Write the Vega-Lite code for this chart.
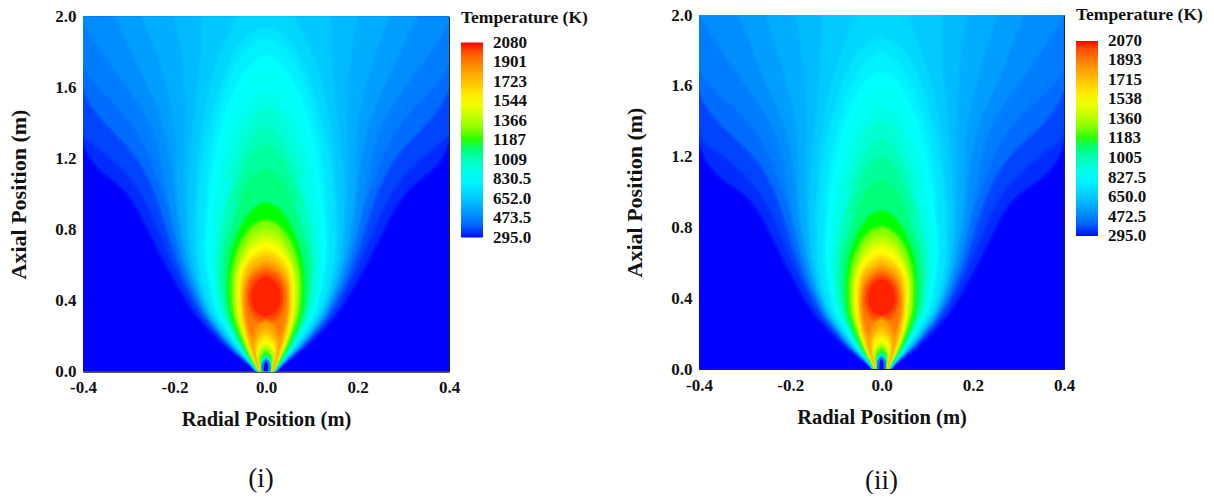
{"$schema":"https://vega.github.io/schema/vega-lite/v6.json","padding":{"left":7,"top":5,"right":0,"bottom":0},"background":"white","spacing":34,"center":true,"resolve":{"scale":{"color":"independent","stroke":"independent"}},
"config":{"view":{"stroke":"#222","strokeWidth":1},"font":"Liberation Serif","axis":{"grid":false,"ticks":false,"domainColor":"#222","labelFont":"Liberation Serif","labelFontWeight":"bold","labelFontSize":17,"labelColor":"#111","titleFont":"Liberation Serif","titleFontWeight":"bold","titleColor":"#111","labelOverlap":false,"labelFlush":false},"legend":{"labelFont":"Liberation Serif","labelFontWeight":"bold","labelFontSize":17,"labelColor":"#111","titleFont":"Liberation Serif","titleFontWeight":"bold","titleFontSize":17.5,"titleColor":"#111"},"title":{"font":"Liberation Serif","fontWeight":"normal","fontSize":27,"color":"#111"}},
"datasets":{"p1":[
{"t":295,"s":0,"y":0,"a":-0.4,"b":0.4},{"t":295,"s":0,"y":2,"a":-0.4,"b":0.4},
{"t":320,"s":1,"y":0,"a":-0.019,"b":0.019},{"t":320,"s":1,"y":0.05,"a":-0.038,"b":0.038},{"t":320,"s":1,"y":0.13,"a":-0.083,"b":0.083},{"t":320,"s":1,"y":0.24,"a":-0.125,"b":0.125},{"t":320,"s":1,"y":0.33,"a":-0.157,"b":0.157},{"t":320,"s":1,"y":0.43,"a":-0.18,"b":0.18},{"t":320,"s":1,"y":0.56,"a":-0.21,"b":0.21},{"t":320,"s":1,"y":0.71,"a":-0.24,"b":0.24},{"t":320,"s":1,"y":0.9,"a":-0.275,"b":0.275},{"t":320,"s":1,"y":1.08,"a":-0.32,"b":0.32},{"t":320,"s":1,"y":1.2,"a":-0.42,"b":0.42},{"t":320,"s":1,"y":2.1,"a":-0.42,"b":0.42},
{"t":350,"s":1,"y":0,"a":-0.018,"b":0.018},{"t":350,"s":1,"y":0.05,"a":-0.036,"b":0.036},{"t":350,"s":1,"y":0.13,"a":-0.078,"b":0.078},{"t":350,"s":1,"y":0.24,"a":-0.118,"b":0.118},{"t":350,"s":1,"y":0.33,"a":-0.148,"b":0.148},{"t":350,"s":1,"y":0.43,"a":-0.168,"b":0.168},{"t":350,"s":1,"y":0.56,"a":-0.195,"b":0.195},{"t":350,"s":1,"y":0.71,"a":-0.22,"b":0.22},{"t":350,"s":1,"y":0.9,"a":-0.25,"b":0.25},{"t":350,"s":1,"y":1.08,"a":-0.285,"b":0.285},{"t":350,"s":1,"y":1.3,"a":-0.38,"b":0.38},{"t":350,"s":1,"y":1.35,"a":-0.42,"b":0.42},{"t":350,"s":1,"y":2.1,"a":-0.42,"b":0.42},
{"t":420,"s":1,"y":0,"a":-0.017,"b":0.017},{"t":420,"s":1,"y":0.05,"a":-0.034,"b":0.034},{"t":420,"s":1,"y":0.13,"a":-0.074,"b":0.074},{"t":420,"s":1,"y":0.24,"a":-0.112,"b":0.112},{"t":420,"s":1,"y":0.33,"a":-0.14,"b":0.14},{"t":420,"s":1,"y":0.43,"a":-0.16,"b":0.16},{"t":420,"s":1,"y":0.56,"a":-0.185,"b":0.185},{"t":420,"s":1,"y":0.71,"a":-0.205,"b":0.205},{"t":420,"s":1,"y":0.9,"a":-0.228,"b":0.228},{"t":420,"s":1,"y":1.08,"a":-0.25,"b":0.25},{"t":420,"s":1,"y":1.3,"a":-0.305,"b":0.305},{"t":420,"s":1,"y":1.55,"a":-0.42,"b":0.42},{"t":420,"s":1,"y":2.1,"a":-0.42,"b":0.42},
{"t":460,"s":3,"y":0.95,"a":-0.215,"b":0.215},{"t":460,"s":3,"y":1.08,"a":-0.235,"b":0.235},{"t":460,"s":3,"y":1.3,"a":-0.265,"b":0.265},{"t":460,"s":3,"y":1.5,"a":-0.32,"b":0.32},{"t":460,"s":3,"y":1.72,"a":-0.42,"b":0.42},{"t":460,"s":3,"y":2.1,"a":-0.42,"b":0.42},
{"t":500,"s":1,"y":0,"a":-0.0165,"b":0.0165},{"t":500,"s":1,"y":0.05,"a":-0.033,"b":0.033},{"t":500,"s":1,"y":0.13,"a":-0.071,"b":0.071},{"t":500,"s":1,"y":0.24,"a":-0.107,"b":0.107},{"t":500,"s":1,"y":0.33,"a":-0.134,"b":0.134},{"t":500,"s":1,"y":0.43,"a":-0.152,"b":0.152},{"t":500,"s":1,"y":0.56,"a":-0.175,"b":0.175},{"t":500,"s":1,"y":0.71,"a":-0.192,"b":0.192},{"t":500,"s":1,"y":0.9,"a":-0.21,"b":0.21},{"t":500,"s":1,"y":1.08,"a":-0.22,"b":0.22},{"t":500,"s":1,"y":1.3,"a":-0.235,"b":0.235},{"t":500,"s":1,"y":1.5,"a":-0.27,"b":0.27},{"t":500,"s":1,"y":1.7,"a":-0.33,"b":0.33},{"t":500,"s":1,"y":1.92,"a":-0.39,"b":0.39},{"t":500,"s":1,"y":2.1,"a":-0.42,"b":0.42},
{"t":540,"s":3,"y":0.9,"a":-0.19,"b":0.19},{"t":540,"s":3,"y":1.08,"a":-0.2,"b":0.2},{"t":540,"s":3,"y":1.3,"a":-0.213,"b":0.213},{"t":540,"s":3,"y":1.5,"a":-0.235,"b":0.235},{"t":540,"s":3,"y":1.7,"a":-0.275,"b":0.275},{"t":540,"s":3,"y":1.85,"a":-0.3,"b":0.3},{"t":540,"s":3,"y":2,"a":-0.33,"b":0.33},{"t":540,"s":3,"y":2.1,"a":-0.35,"b":0.35},
{"t":580,"s":1,"y":0,"a":-0.016,"b":0.016},{"t":580,"s":1,"y":0.05,"a":-0.032,"b":0.032},{"t":580,"s":1,"y":0.13,"a":-0.068,"b":0.068},{"t":580,"s":1,"y":0.24,"a":-0.103,"b":0.103},{"t":580,"s":1,"y":0.33,"a":-0.129,"b":0.129},{"t":580,"s":1,"y":0.43,"a":-0.146,"b":0.146},{"t":580,"s":1,"y":0.56,"a":-0.166,"b":0.166},{"t":580,"s":1,"y":0.71,"a":-0.18,"b":0.18},{"t":580,"s":1,"y":0.9,"a":-0.192,"b":0.192},{"t":580,"s":1,"y":1.08,"a":-0.195,"b":0.195},{"t":580,"s":1,"y":1.3,"a":-0.195,"b":0.195},{"t":580,"s":1,"y":1.5,"a":-0.205,"b":0.205},{"t":580,"s":1,"y":1.7,"a":-0.225,"b":0.225},{"t":580,"s":1,"y":1.85,"a":-0.245,"b":0.245},{"t":580,"s":1,"y":2,"a":-0.27,"b":0.27},{"t":580,"s":1,"y":2.1,"a":-0.29,"b":0.29},
{"t":620,"s":3,"y":0.9,"a":-0.17,"b":0.17},{"t":620,"s":3,"y":1.08,"a":-0.178,"b":0.178},{"t":620,"s":3,"y":1.3,"a":-0.175,"b":0.175},{"t":620,"s":3,"y":1.5,"a":-0.175,"b":0.175},{"t":620,"s":3,"y":1.7,"a":-0.18,"b":0.18},{"t":620,"s":3,"y":1.85,"a":-0.185,"b":0.185},{"t":620,"s":3,"y":2,"a":-0.2,"b":0.2},{"t":620,"s":3,"y":2.1,"a":-0.21,"b":0.21},
{"t":660,"s":1,"y":0,"a":-0.0155,"b":0.0155},{"t":660,"s":1,"y":0.05,"a":-0.031,"b":0.031},{"t":660,"s":1,"y":0.13,"a":-0.065,"b":0.065},{"t":660,"s":1,"y":0.24,"a":-0.099,"b":0.099},{"t":660,"s":1,"y":0.33,"a":-0.124,"b":0.124},{"t":660,"s":1,"y":0.43,"a":-0.14,"b":0.14},{"t":660,"s":1,"y":0.56,"a":-0.157,"b":0.157},{"t":660,"s":1,"y":0.71,"a":-0.168,"b":0.168},{"t":660,"s":1,"y":0.9,"a":-0.172,"b":0.172},{"t":660,"s":1,"y":1.08,"a":-0.168,"b":0.168},{"t":660,"s":1,"y":1.3,"a":-0.16,"b":0.16},{"t":660,"s":1,"y":1.5,"a":-0.152,"b":0.152},{"t":660,"s":1,"y":1.7,"a":-0.145,"b":0.145},{"t":660,"s":1,"y":1.85,"a":-0.14,"b":0.14},{"t":660,"s":1,"y":2,"a":-0.14,"b":0.14},{"t":660,"s":1,"y":2.1,"a":-0.14,"b":0.14},
{"t":700,"s":3,"y":0.9,"a":-0.15,"b":0.15},{"t":700,"s":3,"y":1.08,"a":-0.15,"b":0.15},{"t":700,"s":3,"y":1.3,"a":-0.145,"b":0.145},{"t":700,"s":3,"y":1.5,"a":-0.13,"b":0.13},{"t":700,"s":3,"y":1.7,"a":-0.115,"b":0.115},{"t":700,"s":3,"y":1.85,"a":-0.09,"b":0.09},{"t":700,"s":3,"y":2,"a":-0.06,"b":0.06},{"t":700,"s":3,"y":2.1,"a":-0.04,"b":0.04},
{"t":740,"s":1,"y":0,"a":-0.015,"b":0.015},{"t":740,"s":1,"y":0.05,"a":-0.03,"b":0.03},{"t":740,"s":1,"y":0.13,"a":-0.062,"b":0.062},{"t":740,"s":1,"y":0.24,"a":-0.093,"b":0.093},{"t":740,"s":1,"y":0.33,"a":-0.118,"b":0.118},{"t":740,"s":1,"y":0.43,"a":-0.132,"b":0.132},{"t":740,"s":1,"y":0.56,"a":-0.147,"b":0.147},{"t":740,"s":1,"y":0.71,"a":-0.153,"b":0.153},{"t":740,"s":1,"y":0.9,"a":-0.152,"b":0.152},{"t":740,"s":1,"y":1.08,"a":-0.145,"b":0.145},{"t":740,"s":1,"y":1.3,"a":-0.132,"b":0.132},{"t":740,"s":1,"y":1.5,"a":-0.112,"b":0.112},{"t":740,"s":1,"y":1.7,"a":-0.085,"b":0.085},{"t":740,"s":1,"y":1.88,"a":-0.055,"b":0.055},{"t":740,"s":1,"y":1.94,"a":0,"b":0},
{"t":780,"s":3,"y":1,"a":-0.13,"b":0.13},{"t":780,"s":3,"y":1.3,"a":-0.118,"b":0.118},{"t":780,"s":3,"y":1.5,"a":-0.1,"b":0.1},{"t":780,"s":3,"y":1.7,"a":-0.072,"b":0.072},{"t":780,"s":3,"y":1.84,"a":-0.04,"b":0.04},{"t":780,"s":3,"y":1.88,"a":0,"b":0},
{"t":830,"s":1,"y":0,"a":-0.0145,"b":0.0145},{"t":830,"s":1,"y":0.05,"a":-0.029,"b":0.029},{"t":830,"s":1,"y":0.13,"a":-0.057,"b":0.057},{"t":830,"s":1,"y":0.24,"a":-0.086,"b":0.086},{"t":830,"s":1,"y":0.33,"a":-0.108,"b":0.108},{"t":830,"s":1,"y":0.43,"a":-0.118,"b":0.118},{"t":830,"s":1,"y":0.56,"a":-0.128,"b":0.128},{"t":830,"s":1,"y":0.71,"a":-0.134,"b":0.134},{"t":830,"s":1,"y":0.9,"a":-0.128,"b":0.128},{"t":830,"s":1,"y":1.08,"a":-0.12,"b":0.12},{"t":830,"s":1,"y":1.3,"a":-0.105,"b":0.105},{"t":830,"s":1,"y":1.5,"a":-0.085,"b":0.085},{"t":830,"s":1,"y":1.72,"a":-0.045,"b":0.045},{"t":830,"s":1,"y":1.78,"a":0,"b":0},
{"t":865,"s":3,"y":1.1,"a":-0.1,"b":0.1},{"t":865,"s":3,"y":1.3,"a":-0.092,"b":0.092},{"t":865,"s":3,"y":1.5,"a":-0.068,"b":0.068},{"t":865,"s":3,"y":1.66,"a":-0.035,"b":0.035},{"t":865,"s":3,"y":1.7,"a":0,"b":0},
{"t":900,"s":1,"y":0,"a":-0.014,"b":0.014},{"t":900,"s":1,"y":0.05,"a":-0.027,"b":0.027},{"t":900,"s":1,"y":0.13,"a":-0.053,"b":0.053},{"t":900,"s":1,"y":0.24,"a":-0.08,"b":0.08},{"t":900,"s":1,"y":0.33,"a":-0.1,"b":0.1},{"t":900,"s":1,"y":0.43,"a":-0.11,"b":0.11},{"t":900,"s":1,"y":0.56,"a":-0.118,"b":0.118},{"t":900,"s":1,"y":0.71,"a":-0.12,"b":0.12},{"t":900,"s":1,"y":0.9,"a":-0.112,"b":0.112},{"t":900,"s":1,"y":1.08,"a":-0.1,"b":0.1},{"t":900,"s":1,"y":1.3,"a":-0.08,"b":0.08},{"t":900,"s":1,"y":1.52,"a":-0.04,"b":0.04},{"t":900,"s":1,"y":1.58,"a":0,"b":0},
{"t":950,"s":3,"y":1.1,"a":-0.085,"b":0.085},{"t":950,"s":3,"y":1.3,"a":-0.058,"b":0.058},{"t":950,"s":3,"y":1.45,"a":-0.033,"b":0.033},{"t":950,"s":3,"y":1.5,"a":0,"b":0},
{"t":1000,"s":1,"y":0,"a":-0.0135,"b":0.0135},{"t":1000,"s":1,"y":0.05,"a":-0.026,"b":0.026},{"t":1000,"s":1,"y":0.13,"a":-0.05,"b":0.05},{"t":1000,"s":1,"y":0.24,"a":-0.075,"b":0.075},{"t":1000,"s":1,"y":0.33,"a":-0.092,"b":0.092},{"t":1000,"s":1,"y":0.43,"a":-0.1,"b":0.1},{"t":1000,"s":1,"y":0.56,"a":-0.106,"b":0.106},{"t":1000,"s":1,"y":0.71,"a":-0.104,"b":0.104},{"t":1000,"s":1,"y":0.9,"a":-0.09,"b":0.09},{"t":1000,"s":1,"y":1.08,"a":-0.07,"b":0.07},{"t":1000,"s":1,"y":1.34,"a":-0.032,"b":0.032},{"t":1000,"s":1,"y":1.38,"a":0,"b":0},
{"t":1045,"s":3,"y":0.95,"a":-0.075,"b":0.075},{"t":1045,"s":3,"y":1.08,"a":-0.055,"b":0.055},{"t":1045,"s":3,"y":1.25,"a":-0.03,"b":0.03},{"t":1045,"s":3,"y":1.28,"a":0,"b":0},
{"t":1090,"s":1,"y":0,"a":-0.013,"b":0.013},{"t":1090,"s":1,"y":0.05,"a":-0.025,"b":0.025},{"t":1090,"s":1,"y":0.13,"a":-0.047,"b":0.047},{"t":1090,"s":1,"y":0.24,"a":-0.07,"b":0.07},{"t":1090,"s":1,"y":0.33,"a":-0.085,"b":0.085},{"t":1090,"s":1,"y":0.43,"a":-0.092,"b":0.092},{"t":1090,"s":1,"y":0.56,"a":-0.096,"b":0.096},{"t":1090,"s":1,"y":0.71,"a":-0.09,"b":0.09},{"t":1090,"s":1,"y":0.9,"a":-0.065,"b":0.065},{"t":1090,"s":1,"y":1.1,"a":-0.035,"b":0.035},{"t":1090,"s":1,"y":1.14,"a":0,"b":0},
{"t":1187,"s":1,"y":0,"a":-0.0125,"b":0.0125},{"t":1187,"s":1,"y":0.05,"a":-0.024,"b":0.024},{"t":1187,"s":1,"y":0.13,"a":-0.045,"b":0.045},{"t":1187,"s":1,"y":0.24,"a":-0.066,"b":0.066},{"t":1187,"s":1,"y":0.33,"a":-0.078,"b":0.078},{"t":1187,"s":1,"y":0.43,"a":-0.082,"b":0.082},{"t":1187,"s":1,"y":0.56,"a":-0.082,"b":0.082},{"t":1187,"s":1,"y":0.71,"a":-0.074,"b":0.074},{"t":1187,"s":1,"y":0.92,"a":-0.035,"b":0.035},{"t":1187,"s":1,"y":0.95,"a":0,"b":0},
{"t":1280,"s":1,"y":0,"a":-0.012,"b":0.012},{"t":1280,"s":1,"y":0.05,"a":-0.023,"b":0.023},{"t":1280,"s":1,"y":0.13,"a":-0.042,"b":0.042},{"t":1280,"s":1,"y":0.24,"a":-0.06,"b":0.06},{"t":1280,"s":1,"y":0.33,"a":-0.072,"b":0.072},{"t":1280,"s":1,"y":0.43,"a":-0.075,"b":0.075},{"t":1280,"s":1,"y":0.56,"a":-0.075,"b":0.075},{"t":1280,"s":1,"y":0.71,"a":-0.06,"b":0.06},{"t":1280,"s":1,"y":0.83,"a":-0.03,"b":0.03},{"t":1280,"s":1,"y":0.85,"a":0,"b":0},
{"t":1366,"s":1,"y":0,"a":-0.0115,"b":0.0115},{"t":1366,"s":1,"y":0.05,"a":-0.022,"b":0.022},{"t":1366,"s":1,"y":0.13,"a":-0.039,"b":0.039},{"t":1366,"s":1,"y":0.24,"a":-0.056,"b":0.056},{"t":1366,"s":1,"y":0.33,"a":-0.066,"b":0.066},{"t":1366,"s":1,"y":0.43,"a":-0.069,"b":0.069},{"t":1366,"s":1,"y":0.56,"a":-0.068,"b":0.068},{"t":1366,"s":1,"y":0.71,"a":-0.045,"b":0.045},{"t":1366,"s":1,"y":0.785,"a":-0.025,"b":0.025},{"t":1366,"s":1,"y":0.8,"a":0,"b":0},
{"t":1450,"s":1,"y":0,"a":-0.011,"b":0.011},{"t":1450,"s":1,"y":0.05,"a":-0.021,"b":0.021},{"t":1450,"s":1,"y":0.13,"a":-0.037,"b":0.037},{"t":1450,"s":1,"y":0.24,"a":-0.053,"b":0.053},{"t":1450,"s":1,"y":0.33,"a":-0.061,"b":0.061},{"t":1450,"s":1,"y":0.43,"a":-0.064,"b":0.064},{"t":1450,"s":1,"y":0.56,"a":-0.063,"b":0.063},{"t":1450,"s":1,"y":0.7,"a":-0.04,"b":0.04},{"t":1450,"s":1,"y":0.745,"a":-0.022,"b":0.022},{"t":1450,"s":1,"y":0.76,"a":0,"b":0},
{"t":1544,"s":1,"y":0,"a":-0.0105,"b":0.0105},{"t":1544,"s":1,"y":0.05,"a":-0.02,"b":0.02},{"t":1544,"s":1,"y":0.13,"a":-0.035,"b":0.035},{"t":1544,"s":1,"y":0.24,"a":-0.05,"b":0.05},{"t":1544,"s":1,"y":0.33,"a":-0.057,"b":0.057},{"t":1544,"s":1,"y":0.43,"a":-0.059,"b":0.059},{"t":1544,"s":1,"y":0.56,"a":-0.058,"b":0.058},{"t":1544,"s":1,"y":0.64,"a":-0.046,"b":0.046},{"t":1544,"s":1,"y":0.71,"a":-0.022,"b":0.022},{"t":1544,"s":1,"y":0.725,"a":0,"b":0},
{"t":1630,"s":1,"y":0,"a":-0.01,"b":0.01},{"t":1630,"s":1,"y":0.05,"a":-0.019,"b":0.019},{"t":1630,"s":1,"y":0.13,"a":-0.033,"b":0.033},{"t":1630,"s":1,"y":0.24,"a":-0.047,"b":0.047},{"t":1630,"s":1,"y":0.33,"a":-0.054,"b":0.054},{"t":1630,"s":1,"y":0.43,"a":-0.056,"b":0.056},{"t":1630,"s":1,"y":0.56,"a":-0.054,"b":0.054},{"t":1630,"s":1,"y":0.66,"a":-0.028,"b":0.028},{"t":1630,"s":1,"y":0.685,"a":0,"b":0},
{"t":1720,"s":1,"y":0,"a":-0.0095,"b":0.0095},{"t":1720,"s":1,"y":0.05,"a":-0.018,"b":0.018},{"t":1720,"s":1,"y":0.13,"a":-0.031,"b":0.031},{"t":1720,"s":1,"y":0.24,"a":-0.044,"b":0.044},{"t":1720,"s":1,"y":0.33,"a":-0.05,"b":0.05},{"t":1720,"s":1,"y":0.43,"a":-0.052,"b":0.052},{"t":1720,"s":1,"y":0.56,"a":-0.05,"b":0.05},{"t":1720,"s":1,"y":0.635,"a":-0.025,"b":0.025},{"t":1720,"s":1,"y":0.655,"a":0,"b":0},
{"t":1810,"s":1,"y":0,"a":-0.009,"b":0.009},{"t":1810,"s":1,"y":0.05,"a":-0.017,"b":0.017},{"t":1810,"s":1,"y":0.13,"a":-0.029,"b":0.029},{"t":1810,"s":1,"y":0.24,"a":-0.041,"b":0.041},{"t":1810,"s":1,"y":0.33,"a":-0.046,"b":0.046},{"t":1810,"s":1,"y":0.43,"a":-0.048,"b":0.048},{"t":1810,"s":1,"y":0.54,"a":-0.044,"b":0.044},{"t":1810,"s":1,"y":0.605,"a":-0.02,"b":0.02},{"t":1810,"s":1,"y":0.62,"a":0,"b":0},
{"t":1900,"s":1,"y":0.17,"a":0,"b":0},{"t":1900,"s":1,"y":0.19,"a":-0.03,"b":0.03},{"t":1900,"s":1,"y":0.24,"a":-0.037,"b":0.037},{"t":1900,"s":1,"y":0.33,"a":-0.044,"b":0.044},{"t":1900,"s":1,"y":0.43,"a":-0.046,"b":0.046},{"t":1900,"s":1,"y":0.52,"a":-0.04,"b":0.04},{"t":1900,"s":1,"y":0.575,"a":-0.02,"b":0.02},{"t":1900,"s":1,"y":0.59,"a":0,"b":0},
{"t":1990,"s":1,"y":0.27,"a":0,"b":0},{"t":1990,"s":1,"y":0.29,"a":-0.025,"b":0.025},{"t":1990,"s":1,"y":0.36,"a":-0.038,"b":0.038},{"t":1990,"s":1,"y":0.43,"a":-0.041,"b":0.041},{"t":1990,"s":1,"y":0.5,"a":-0.036,"b":0.036},{"t":1990,"s":1,"y":0.55,"a":-0.02,"b":0.02},{"t":1990,"s":1,"y":0.565,"a":0,"b":0},
{"t":2060,"s":1,"y":0.31,"a":0,"b":0},{"t":2060,"s":1,"y":0.33,"a":-0.022,"b":0.022},{"t":2060,"s":1,"y":0.38,"a":-0.031,"b":0.031},{"t":2060,"s":1,"y":0.43,"a":-0.033,"b":0.033},{"t":2060,"s":1,"y":0.48,"a":-0.028,"b":0.028},{"t":2060,"s":1,"y":0.525,"a":-0.014,"b":0.014},{"t":2060,"s":1,"y":0.535,"a":0,"b":0},
{"t":1810,"s":2,"y":0,"a":-0.0085,"b":0.0085},{"t":1810,"s":2,"y":0.05,"a":-0.0145,"b":0.0145},{"t":1810,"s":2,"y":0.13,"a":-0.025,"b":0.025},{"t":1810,"s":2,"y":0.2,"a":-0.026,"b":0.026},{"t":1810,"s":2,"y":0.26,"a":-0.018,"b":0.018},{"t":1810,"s":2,"y":0.285,"a":0,"b":0},
{"t":1720,"s":2,"y":0,"a":-0.008,"b":0.008},{"t":1720,"s":2,"y":0.05,"a":-0.013,"b":0.013},{"t":1720,"s":2,"y":0.13,"a":-0.023,"b":0.023},{"t":1720,"s":2,"y":0.2,"a":-0.02,"b":0.02},{"t":1720,"s":2,"y":0.24,"a":0,"b":0},
{"t":1630,"s":2,"y":0,"a":-0.0075,"b":0.0075},{"t":1630,"s":2,"y":0.05,"a":-0.012,"b":0.012},{"t":1630,"s":2,"y":0.13,"a":-0.0215,"b":0.0215},{"t":1630,"s":2,"y":0.18,"a":-0.017,"b":0.017},{"t":1630,"s":2,"y":0.205,"a":0,"b":0},
{"t":1544,"s":2,"y":0,"a":-0.007,"b":0.007},{"t":1544,"s":2,"y":0.05,"a":-0.011,"b":0.011},{"t":1544,"s":2,"y":0.1,"a":-0.018,"b":0.018},{"t":1544,"s":2,"y":0.15,"a":-0.017,"b":0.017},{"t":1544,"s":2,"y":0.175,"a":0,"b":0},
{"t":1450,"s":2,"y":0,"a":-0.0065,"b":0.0065},{"t":1450,"s":2,"y":0.05,"a":-0.0105,"b":0.0105},{"t":1450,"s":2,"y":0.1,"a":-0.0165,"b":0.0165},{"t":1450,"s":2,"y":0.135,"a":-0.013,"b":0.013},{"t":1450,"s":2,"y":0.155,"a":0,"b":0},
{"t":1366,"s":2,"y":0,"a":-0.006,"b":0.006},{"t":1366,"s":2,"y":0.05,"a":-0.01,"b":0.01},{"t":1366,"s":2,"y":0.09,"a":-0.014,"b":0.014},{"t":1366,"s":2,"y":0.12,"a":-0.011,"b":0.011},{"t":1366,"s":2,"y":0.135,"a":0,"b":0},
{"t":1280,"s":2,"y":0,"a":-0.0058,"b":0.0058},{"t":1280,"s":2,"y":0.05,"a":-0.0092,"b":0.0092},{"t":1280,"s":2,"y":0.09,"a":-0.012,"b":0.012},{"t":1280,"s":2,"y":0.12,"a":0,"b":0},
{"t":1187,"s":2,"y":0,"a":-0.0056,"b":0.0056},{"t":1187,"s":2,"y":0.05,"a":-0.0085,"b":0.0085},{"t":1187,"s":2,"y":0.085,"a":-0.0095,"b":0.0095},{"t":1187,"s":2,"y":0.103,"a":0,"b":0},
{"t":1000,"s":2,"y":0,"a":-0.0054,"b":0.0054},{"t":1000,"s":2,"y":0.05,"a":-0.0075,"b":0.0075},{"t":1000,"s":2,"y":0.075,"a":-0.0072,"b":0.0072},{"t":1000,"s":2,"y":0.088,"a":0,"b":0},
{"t":830,"s":2,"y":0,"a":-0.0052,"b":0.0052},{"t":830,"s":2,"y":0.06,"a":-0.0065,"b":0.0065},{"t":830,"s":2,"y":0.075,"a":0,"b":0},
{"t":580,"s":2,"y":0,"a":-0.005,"b":0.005},{"t":580,"s":2,"y":0.05,"a":-0.0055,"b":0.0055},{"t":580,"s":2,"y":0.065,"a":0,"b":0},
{"t":295,"s":2,"y":0,"a":-0.0045,"b":0.0045},{"t":295,"s":2,"y":0.045,"a":-0.0045,"b":0.0045},{"t":295,"s":2,"y":0.055,"a":0,"b":0}
],"p2":[
{"t":295,"s":0,"y":0,"a":-0.4,"b":0.4},{"t":295,"s":0,"y":2,"a":-0.4,"b":0.4},
{"t":320,"s":1,"y":0,"a":-0.018,"b":0.018},{"t":320,"s":1,"y":0.05,"a":-0.036,"b":0.036},{"t":320,"s":1,"y":0.12,"a":-0.078,"b":0.078},{"t":320,"s":1,"y":0.23,"a":-0.117,"b":0.117},{"t":320,"s":1,"y":0.31,"a":-0.147,"b":0.147},{"t":320,"s":1,"y":0.4,"a":-0.168,"b":0.168},{"t":320,"s":1,"y":0.53,"a":-0.196,"b":0.196},{"t":320,"s":1,"y":0.67,"a":-0.224,"b":0.224},{"t":320,"s":1,"y":0.85,"a":-0.257,"b":0.257},{"t":320,"s":1,"y":1.02,"a":-0.3,"b":0.3},{"t":320,"s":1,"y":1.15,"a":-0.42,"b":0.42},{"t":320,"s":1,"y":2.1,"a":-0.42,"b":0.42},
{"t":350,"s":1,"y":0,"a":-0.017,"b":0.017},{"t":350,"s":1,"y":0.05,"a":-0.034,"b":0.034},{"t":350,"s":1,"y":0.12,"a":-0.073,"b":0.073},{"t":350,"s":1,"y":0.23,"a":-0.11,"b":0.11},{"t":350,"s":1,"y":0.31,"a":-0.138,"b":0.138},{"t":350,"s":1,"y":0.4,"a":-0.156,"b":0.156},{"t":350,"s":1,"y":0.53,"a":-0.181,"b":0.181},{"t":350,"s":1,"y":0.67,"a":-0.205,"b":0.205},{"t":350,"s":1,"y":0.85,"a":-0.233,"b":0.233},{"t":350,"s":1,"y":1.02,"a":-0.265,"b":0.265},{"t":350,"s":1,"y":1.25,"a":-0.36,"b":0.36},{"t":350,"s":1,"y":1.3,"a":-0.42,"b":0.42},{"t":350,"s":1,"y":2.1,"a":-0.42,"b":0.42},
{"t":420,"s":1,"y":0,"a":-0.016,"b":0.016},{"t":420,"s":1,"y":0.05,"a":-0.032,"b":0.032},{"t":420,"s":1,"y":0.12,"a":-0.069,"b":0.069},{"t":420,"s":1,"y":0.23,"a":-0.104,"b":0.104},{"t":420,"s":1,"y":0.31,"a":-0.13,"b":0.13},{"t":420,"s":1,"y":0.4,"a":-0.149,"b":0.149},{"t":420,"s":1,"y":0.53,"a":-0.172,"b":0.172},{"t":420,"s":1,"y":0.67,"a":-0.191,"b":0.191},{"t":420,"s":1,"y":0.85,"a":-0.212,"b":0.212},{"t":420,"s":1,"y":1.02,"a":-0.233,"b":0.233},{"t":420,"s":1,"y":1.25,"a":-0.284,"b":0.284},{"t":420,"s":1,"y":1.5,"a":-0.42,"b":0.42},{"t":420,"s":1,"y":2.1,"a":-0.42,"b":0.42},
{"t":460,"s":3,"y":0.9,"a":-0.2,"b":0.2},{"t":460,"s":3,"y":1.02,"a":-0.219,"b":0.219},{"t":460,"s":3,"y":1.25,"a":-0.25,"b":0.25},{"t":460,"s":3,"y":1.45,"a":-0.3,"b":0.3},{"t":460,"s":3,"y":1.67,"a":-0.42,"b":0.42},{"t":460,"s":3,"y":2.1,"a":-0.42,"b":0.42},
{"t":500,"s":1,"y":0,"a":-0.015,"b":0.015},{"t":500,"s":1,"y":0.05,"a":-0.031,"b":0.031},{"t":500,"s":1,"y":0.12,"a":-0.066,"b":0.066},{"t":500,"s":1,"y":0.23,"a":-0.1,"b":0.1},{"t":500,"s":1,"y":0.31,"a":-0.125,"b":0.125},{"t":500,"s":1,"y":0.4,"a":-0.141,"b":0.141},{"t":500,"s":1,"y":0.53,"a":-0.163,"b":0.163},{"t":500,"s":1,"y":0.67,"a":-0.179,"b":0.179},{"t":500,"s":1,"y":0.85,"a":-0.195,"b":0.195},{"t":500,"s":1,"y":1.02,"a":-0.205,"b":0.205},{"t":500,"s":1,"y":1.25,"a":-0.219,"b":0.219},{"t":500,"s":1,"y":1.45,"a":-0.25,"b":0.25},{"t":500,"s":1,"y":1.65,"a":-0.31,"b":0.31},{"t":500,"s":1,"y":1.88,"a":-0.37,"b":0.37},{"t":500,"s":1,"y":2.1,"a":-0.42,"b":0.42},
{"t":540,"s":3,"y":0.85,"a":-0.177,"b":0.177},{"t":540,"s":3,"y":1.02,"a":-0.186,"b":0.186},{"t":540,"s":3,"y":1.25,"a":-0.198,"b":0.198},{"t":540,"s":3,"y":1.45,"a":-0.219,"b":0.219},{"t":540,"s":3,"y":1.65,"a":-0.26,"b":0.26},{"t":540,"s":3,"y":1.8,"a":-0.28,"b":0.28},{"t":540,"s":3,"y":2,"a":-0.31,"b":0.31},{"t":540,"s":3,"y":2.1,"a":-0.33,"b":0.33},
{"t":580,"s":1,"y":0,"a":-0.015,"b":0.015},{"t":580,"s":1,"y":0.05,"a":-0.03,"b":0.03},{"t":580,"s":1,"y":0.12,"a":-0.063,"b":0.063},{"t":580,"s":1,"y":0.23,"a":-0.096,"b":0.096},{"t":580,"s":1,"y":0.31,"a":-0.12,"b":0.12},{"t":580,"s":1,"y":0.4,"a":-0.136,"b":0.136},{"t":580,"s":1,"y":0.53,"a":-0.154,"b":0.154},{"t":580,"s":1,"y":0.67,"a":-0.167,"b":0.167},{"t":580,"s":1,"y":0.85,"a":-0.179,"b":0.179},{"t":580,"s":1,"y":1.02,"a":-0.181,"b":0.181},{"t":580,"s":1,"y":1.25,"a":-0.181,"b":0.181},{"t":580,"s":1,"y":1.45,"a":-0.19,"b":0.19},{"t":580,"s":1,"y":1.65,"a":-0.21,"b":0.21},{"t":580,"s":1,"y":1.8,"a":-0.228,"b":0.228},{"t":580,"s":1,"y":2,"a":-0.25,"b":0.25},{"t":580,"s":1,"y":2.1,"a":-0.27,"b":0.27},
{"t":620,"s":3,"y":0.85,"a":-0.158,"b":0.158},{"t":620,"s":3,"y":1.02,"a":-0.166,"b":0.166},{"t":620,"s":3,"y":1.25,"a":-0.163,"b":0.163},{"t":620,"s":3,"y":1.45,"a":-0.163,"b":0.163},{"t":620,"s":3,"y":1.65,"a":-0.168,"b":0.168},{"t":620,"s":3,"y":1.8,"a":-0.172,"b":0.172},{"t":620,"s":3,"y":2,"a":-0.186,"b":0.186},{"t":620,"s":3,"y":2.1,"a":-0.195,"b":0.195},
{"t":660,"s":1,"y":0,"a":-0.014,"b":0.014},{"t":660,"s":1,"y":0.05,"a":-0.029,"b":0.029},{"t":660,"s":1,"y":0.12,"a":-0.06,"b":0.06},{"t":660,"s":1,"y":0.23,"a":-0.092,"b":0.092},{"t":660,"s":1,"y":0.31,"a":-0.115,"b":0.115},{"t":660,"s":1,"y":0.4,"a":-0.13,"b":0.13},{"t":660,"s":1,"y":0.53,"a":-0.146,"b":0.146},{"t":660,"s":1,"y":0.67,"a":-0.156,"b":0.156},{"t":660,"s":1,"y":0.85,"a":-0.16,"b":0.16},{"t":660,"s":1,"y":1.02,"a":-0.156,"b":0.156},{"t":660,"s":1,"y":1.25,"a":-0.149,"b":0.149},{"t":660,"s":1,"y":1.45,"a":-0.141,"b":0.141},{"t":660,"s":1,"y":1.65,"a":-0.135,"b":0.135},{"t":660,"s":1,"y":1.8,"a":-0.13,"b":0.13},{"t":660,"s":1,"y":2,"a":-0.13,"b":0.13},{"t":660,"s":1,"y":2.1,"a":-0.13,"b":0.13},
{"t":700,"s":3,"y":0.85,"a":-0.14,"b":0.14},{"t":700,"s":3,"y":1.02,"a":-0.14,"b":0.14},{"t":700,"s":3,"y":1.25,"a":-0.135,"b":0.135},{"t":700,"s":3,"y":1.45,"a":-0.121,"b":0.121},{"t":700,"s":3,"y":1.65,"a":-0.107,"b":0.107},{"t":700,"s":3,"y":1.8,"a":-0.084,"b":0.084},{"t":700,"s":3,"y":2,"a":-0.056,"b":0.056},{"t":700,"s":3,"y":2.1,"a":-0.037,"b":0.037},
{"t":740,"s":1,"y":0,"a":-0.014,"b":0.014},{"t":740,"s":1,"y":0.05,"a":-0.028,"b":0.028},{"t":740,"s":1,"y":0.12,"a":-0.058,"b":0.058},{"t":740,"s":1,"y":0.23,"a":-0.086,"b":0.086},{"t":740,"s":1,"y":0.31,"a":-0.11,"b":0.11},{"t":740,"s":1,"y":0.4,"a":-0.123,"b":0.123},{"t":740,"s":1,"y":0.53,"a":-0.137,"b":0.137},{"t":740,"s":1,"y":0.67,"a":-0.142,"b":0.142},{"t":740,"s":1,"y":0.85,"a":-0.141,"b":0.141},{"t":740,"s":1,"y":1.02,"a":-0.135,"b":0.135},{"t":740,"s":1,"y":1.25,"a":-0.123,"b":0.123},{"t":740,"s":1,"y":1.45,"a":-0.104,"b":0.104},{"t":740,"s":1,"y":1.65,"a":-0.079,"b":0.079},{"t":740,"s":1,"y":1.82,"a":-0.05,"b":0.05},{"t":740,"s":1,"y":1.87,"a":0,"b":0},
{"t":780,"s":3,"y":0.95,"a":-0.121,"b":0.121},{"t":780,"s":3,"y":1.22,"a":-0.11,"b":0.11},{"t":780,"s":3,"y":1.41,"a":-0.093,"b":0.093},{"t":780,"s":3,"y":1.6,"a":-0.067,"b":0.067},{"t":780,"s":3,"y":1.75,"a":-0.037,"b":0.037},{"t":780,"s":3,"y":1.79,"a":0,"b":0},
{"t":830,"s":1,"y":0,"a":-0.0135,"b":0.0135},{"t":830,"s":1,"y":0.05,"a":-0.027,"b":0.027},{"t":830,"s":1,"y":0.12,"a":-0.053,"b":0.053},{"t":830,"s":1,"y":0.23,"a":-0.08,"b":0.08},{"t":830,"s":1,"y":0.31,"a":-0.1,"b":0.1},{"t":830,"s":1,"y":0.4,"a":-0.11,"b":0.11},{"t":830,"s":1,"y":0.53,"a":-0.119,"b":0.119},{"t":830,"s":1,"y":0.67,"a":-0.125,"b":0.125},{"t":830,"s":1,"y":0.85,"a":-0.119,"b":0.119},{"t":830,"s":1,"y":1.02,"a":-0.112,"b":0.112},{"t":830,"s":1,"y":1.22,"a":-0.098,"b":0.098},{"t":830,"s":1,"y":1.41,"a":-0.079,"b":0.079},{"t":830,"s":1,"y":1.63,"a":-0.042,"b":0.042},{"t":830,"s":1,"y":1.68,"a":0,"b":0},
{"t":865,"s":3,"y":1.02,"a":-0.093,"b":0.093},{"t":865,"s":3,"y":1.22,"a":-0.086,"b":0.086},{"t":865,"s":3,"y":1.41,"a":-0.063,"b":0.063},{"t":865,"s":3,"y":1.57,"a":-0.033,"b":0.033},{"t":865,"s":3,"y":1.6,"a":0,"b":0},
{"t":900,"s":1,"y":0,"a":-0.013,"b":0.013},{"t":900,"s":1,"y":0.05,"a":-0.025,"b":0.025},{"t":900,"s":1,"y":0.12,"a":-0.049,"b":0.049},{"t":900,"s":1,"y":0.23,"a":-0.074,"b":0.074},{"t":900,"s":1,"y":0.31,"a":-0.093,"b":0.093},{"t":900,"s":1,"y":0.4,"a":-0.102,"b":0.102},{"t":900,"s":1,"y":0.53,"a":-0.11,"b":0.11},{"t":900,"s":1,"y":0.67,"a":-0.112,"b":0.112},{"t":900,"s":1,"y":0.85,"a":-0.104,"b":0.104},{"t":900,"s":1,"y":1.02,"a":-0.093,"b":0.093},{"t":900,"s":1,"y":1.22,"a":-0.074,"b":0.074},{"t":900,"s":1,"y":1.44,"a":-0.037,"b":0.037},{"t":900,"s":1,"y":1.49,"a":0,"b":0},
{"t":950,"s":3,"y":1.02,"a":-0.079,"b":0.079},{"t":950,"s":3,"y":1.22,"a":-0.054,"b":0.054},{"t":950,"s":3,"y":1.37,"a":-0.03,"b":0.03},{"t":950,"s":3,"y":1.41,"a":0,"b":0},
{"t":1000,"s":1,"y":0,"a":-0.0125,"b":0.0125},{"t":1000,"s":1,"y":0.05,"a":-0.024,"b":0.024},{"t":1000,"s":1,"y":0.12,"a":-0.047,"b":0.047},{"t":1000,"s":1,"y":0.23,"a":-0.07,"b":0.07},{"t":1000,"s":1,"y":0.31,"a":-0.086,"b":0.086},{"t":1000,"s":1,"y":0.4,"a":-0.093,"b":0.093},{"t":1000,"s":1,"y":0.53,"a":-0.099,"b":0.099},{"t":1000,"s":1,"y":0.67,"a":-0.097,"b":0.097},{"t":1000,"s":1,"y":0.85,"a":-0.084,"b":0.084},{"t":1000,"s":1,"y":1.02,"a":-0.065,"b":0.065},{"t":1000,"s":1,"y":1.26,"a":-0.03,"b":0.03},{"t":1000,"s":1,"y":1.3,"a":0,"b":0},
{"t":1045,"s":3,"y":0.89,"a":-0.07,"b":0.07},{"t":1045,"s":3,"y":1.02,"a":-0.051,"b":0.051},{"t":1045,"s":3,"y":1.17,"a":-0.028,"b":0.028},{"t":1045,"s":3,"y":1.2,"a":0,"b":0},
{"t":1090,"s":1,"y":0,"a":-0.012,"b":0.012},{"t":1090,"s":1,"y":0.05,"a":-0.023,"b":0.023},{"t":1090,"s":1,"y":0.12,"a":-0.044,"b":0.044},{"t":1090,"s":1,"y":0.23,"a":-0.065,"b":0.065},{"t":1090,"s":1,"y":0.31,"a":-0.079,"b":0.079},{"t":1090,"s":1,"y":0.4,"a":-0.086,"b":0.086},{"t":1090,"s":1,"y":0.53,"a":-0.089,"b":0.089},{"t":1090,"s":1,"y":0.67,"a":-0.084,"b":0.084},{"t":1090,"s":1,"y":0.85,"a":-0.06,"b":0.06},{"t":1090,"s":1,"y":1.03,"a":-0.033,"b":0.033},{"t":1090,"s":1,"y":1.07,"a":0,"b":0},
{"t":1183,"s":1,"y":0,"a":-0.0115,"b":0.0115},{"t":1183,"s":1,"y":0.05,"a":-0.022,"b":0.022},{"t":1183,"s":1,"y":0.12,"a":-0.042,"b":0.042},{"t":1183,"s":1,"y":0.23,"a":-0.061,"b":0.061},{"t":1183,"s":1,"y":0.31,"a":-0.073,"b":0.073},{"t":1183,"s":1,"y":0.4,"a":-0.076,"b":0.076},{"t":1183,"s":1,"y":0.53,"a":-0.076,"b":0.076},{"t":1183,"s":1,"y":0.67,"a":-0.069,"b":0.069},{"t":1183,"s":1,"y":0.87,"a":-0.032,"b":0.032},{"t":1183,"s":1,"y":0.89,"a":0,"b":0},
{"t":1280,"s":1,"y":0,"a":-0.011,"b":0.011},{"t":1280,"s":1,"y":0.05,"a":-0.021,"b":0.021},{"t":1280,"s":1,"y":0.12,"a":-0.039,"b":0.039},{"t":1280,"s":1,"y":0.23,"a":-0.056,"b":0.056},{"t":1280,"s":1,"y":0.31,"a":-0.067,"b":0.067},{"t":1280,"s":1,"y":0.4,"a":-0.07,"b":0.07},{"t":1280,"s":1,"y":0.53,"a":-0.07,"b":0.07},{"t":1280,"s":1,"y":0.67,"a":-0.056,"b":0.056},{"t":1280,"s":1,"y":0.78,"a":-0.028,"b":0.028},{"t":1280,"s":1,"y":0.8,"a":0,"b":0},
{"t":1360,"s":1,"y":0,"a":-0.0107,"b":0.0107},{"t":1360,"s":1,"y":0.05,"a":-0.02,"b":0.02},{"t":1360,"s":1,"y":0.12,"a":-0.036,"b":0.036},{"t":1360,"s":1,"y":0.23,"a":-0.052,"b":0.052},{"t":1360,"s":1,"y":0.31,"a":-0.061,"b":0.061},{"t":1360,"s":1,"y":0.4,"a":-0.064,"b":0.064},{"t":1360,"s":1,"y":0.53,"a":-0.063,"b":0.063},{"t":1360,"s":1,"y":0.67,"a":-0.042,"b":0.042},{"t":1360,"s":1,"y":0.74,"a":-0.023,"b":0.023},{"t":1360,"s":1,"y":0.755,"a":0,"b":0},
{"t":1450,"s":1,"y":0,"a":-0.01,"b":0.01},{"t":1450,"s":1,"y":0.05,"a":-0.0195,"b":0.0195},{"t":1450,"s":1,"y":0.12,"a":-0.034,"b":0.034},{"t":1450,"s":1,"y":0.23,"a":-0.049,"b":0.049},{"t":1450,"s":1,"y":0.31,"a":-0.057,"b":0.057},{"t":1450,"s":1,"y":0.4,"a":-0.06,"b":0.06},{"t":1450,"s":1,"y":0.53,"a":-0.059,"b":0.059},{"t":1450,"s":1,"y":0.66,"a":-0.037,"b":0.037},{"t":1450,"s":1,"y":0.7,"a":-0.02,"b":0.02},{"t":1450,"s":1,"y":0.715,"a":0,"b":0},
{"t":1538,"s":1,"y":0,"a":-0.0098,"b":0.0098},{"t":1538,"s":1,"y":0.05,"a":-0.0186,"b":0.0186},{"t":1538,"s":1,"y":0.12,"a":-0.033,"b":0.033},{"t":1538,"s":1,"y":0.23,"a":-0.047,"b":0.047},{"t":1538,"s":1,"y":0.31,"a":-0.053,"b":0.053},{"t":1538,"s":1,"y":0.4,"a":-0.055,"b":0.055},{"t":1538,"s":1,"y":0.53,"a":-0.054,"b":0.054},{"t":1538,"s":1,"y":0.6,"a":-0.043,"b":0.043},{"t":1538,"s":1,"y":0.67,"a":-0.02,"b":0.02},{"t":1538,"s":1,"y":0.685,"a":0,"b":0},
{"t":1630,"s":1,"y":0,"a":-0.0093,"b":0.0093},{"t":1630,"s":1,"y":0.05,"a":-0.0177,"b":0.0177},{"t":1630,"s":1,"y":0.12,"a":-0.031,"b":0.031},{"t":1630,"s":1,"y":0.23,"a":-0.044,"b":0.044},{"t":1630,"s":1,"y":0.31,"a":-0.05,"b":0.05},{"t":1630,"s":1,"y":0.4,"a":-0.052,"b":0.052},{"t":1630,"s":1,"y":0.53,"a":-0.05,"b":0.05},{"t":1630,"s":1,"y":0.62,"a":-0.026,"b":0.026},{"t":1630,"s":1,"y":0.645,"a":0,"b":0},
{"t":1715,"s":1,"y":0,"a":-0.0088,"b":0.0088},{"t":1715,"s":1,"y":0.05,"a":-0.0167,"b":0.0167},{"t":1715,"s":1,"y":0.12,"a":-0.029,"b":0.029},{"t":1715,"s":1,"y":0.23,"a":-0.041,"b":0.041},{"t":1715,"s":1,"y":0.31,"a":-0.047,"b":0.047},{"t":1715,"s":1,"y":0.4,"a":-0.048,"b":0.048},{"t":1715,"s":1,"y":0.53,"a":-0.046,"b":0.046},{"t":1715,"s":1,"y":0.595,"a":-0.023,"b":0.023},{"t":1715,"s":1,"y":0.615,"a":0,"b":0},
{"t":1805,"s":1,"y":0,"a":-0.0084,"b":0.0084},{"t":1805,"s":1,"y":0.05,"a":-0.0158,"b":0.0158},{"t":1805,"s":1,"y":0.12,"a":-0.027,"b":0.027},{"t":1805,"s":1,"y":0.23,"a":-0.038,"b":0.038},{"t":1805,"s":1,"y":0.31,"a":-0.043,"b":0.043},{"t":1805,"s":1,"y":0.4,"a":-0.045,"b":0.045},{"t":1805,"s":1,"y":0.51,"a":-0.041,"b":0.041},{"t":1805,"s":1,"y":0.57,"a":-0.019,"b":0.019},{"t":1805,"s":1,"y":0.585,"a":0,"b":0},
{"t":1893,"s":1,"y":0.17,"a":0,"b":0},{"t":1893,"s":1,"y":0.19,"a":-0.028,"b":0.028},{"t":1893,"s":1,"y":0.23,"a":-0.034,"b":0.034},{"t":1893,"s":1,"y":0.31,"a":-0.041,"b":0.041},{"t":1893,"s":1,"y":0.4,"a":-0.043,"b":0.043},{"t":1893,"s":1,"y":0.49,"a":-0.037,"b":0.037},{"t":1893,"s":1,"y":0.545,"a":-0.019,"b":0.019},{"t":1893,"s":1,"y":0.56,"a":0,"b":0},
{"t":1980,"s":1,"y":0.26,"a":0,"b":0},{"t":1980,"s":1,"y":0.28,"a":-0.023,"b":0.023},{"t":1980,"s":1,"y":0.34,"a":-0.035,"b":0.035},{"t":1980,"s":1,"y":0.4,"a":-0.038,"b":0.038},{"t":1980,"s":1,"y":0.47,"a":-0.033,"b":0.033},{"t":1980,"s":1,"y":0.52,"a":-0.018,"b":0.018},{"t":1980,"s":1,"y":0.535,"a":0,"b":0},
{"t":2050,"s":1,"y":0.3,"a":0,"b":0},{"t":2050,"s":1,"y":0.32,"a":-0.02,"b":0.02},{"t":2050,"s":1,"y":0.36,"a":-0.029,"b":0.029},{"t":2050,"s":1,"y":0.41,"a":-0.03,"b":0.03},{"t":2050,"s":1,"y":0.46,"a":-0.026,"b":0.026},{"t":2050,"s":1,"y":0.5,"a":-0.013,"b":0.013},{"t":2050,"s":1,"y":0.51,"a":0,"b":0},
{"t":1805,"s":2,"y":0,"a":-0.008,"b":0.008},{"t":1805,"s":2,"y":0.05,"a":-0.0135,"b":0.0135},{"t":1805,"s":2,"y":0.13,"a":-0.024,"b":0.024},{"t":1805,"s":2,"y":0.2,"a":-0.025,"b":0.025},{"t":1805,"s":2,"y":0.26,"a":-0.017,"b":0.017},{"t":1805,"s":2,"y":0.285,"a":0,"b":0},
{"t":1715,"s":2,"y":0,"a":-0.0075,"b":0.0075},{"t":1715,"s":2,"y":0.05,"a":-0.0125,"b":0.0125},{"t":1715,"s":2,"y":0.13,"a":-0.022,"b":0.022},{"t":1715,"s":2,"y":0.2,"a":-0.019,"b":0.019},{"t":1715,"s":2,"y":0.24,"a":0,"b":0},
{"t":1630,"s":2,"y":0,"a":-0.007,"b":0.007},{"t":1630,"s":2,"y":0.05,"a":-0.0115,"b":0.0115},{"t":1630,"s":2,"y":0.13,"a":-0.0205,"b":0.0205},{"t":1630,"s":2,"y":0.18,"a":-0.016,"b":0.016},{"t":1630,"s":2,"y":0.205,"a":0,"b":0},
{"t":1538,"s":2,"y":0,"a":-0.0066,"b":0.0066},{"t":1538,"s":2,"y":0.05,"a":-0.0105,"b":0.0105},{"t":1538,"s":2,"y":0.1,"a":-0.017,"b":0.017},{"t":1538,"s":2,"y":0.15,"a":-0.016,"b":0.016},{"t":1538,"s":2,"y":0.175,"a":0,"b":0},
{"t":1450,"s":2,"y":0,"a":-0.0063,"b":0.0063},{"t":1450,"s":2,"y":0.05,"a":-0.01,"b":0.01},{"t":1450,"s":2,"y":0.1,"a":-0.0155,"b":0.0155},{"t":1450,"s":2,"y":0.135,"a":-0.012,"b":0.012},{"t":1450,"s":2,"y":0.155,"a":0,"b":0},
{"t":1360,"s":2,"y":0,"a":-0.006,"b":0.006},{"t":1360,"s":2,"y":0.05,"a":-0.0095,"b":0.0095},{"t":1360,"s":2,"y":0.09,"a":-0.013,"b":0.013},{"t":1360,"s":2,"y":0.12,"a":-0.01,"b":0.01},{"t":1360,"s":2,"y":0.135,"a":0,"b":0},
{"t":1280,"s":2,"y":0,"a":-0.0057,"b":0.0057},{"t":1280,"s":2,"y":0.05,"a":-0.0088,"b":0.0088},{"t":1280,"s":2,"y":0.09,"a":-0.0115,"b":0.0115},{"t":1280,"s":2,"y":0.12,"a":0,"b":0},
{"t":1183,"s":2,"y":0,"a":-0.0055,"b":0.0055},{"t":1183,"s":2,"y":0.05,"a":-0.0082,"b":0.0082},{"t":1183,"s":2,"y":0.085,"a":-0.009,"b":0.009},{"t":1183,"s":2,"y":0.103,"a":0,"b":0},
{"t":1000,"s":2,"y":0,"a":-0.0053,"b":0.0053},{"t":1000,"s":2,"y":0.05,"a":-0.0072,"b":0.0072},{"t":1000,"s":2,"y":0.075,"a":-0.007,"b":0.007},{"t":1000,"s":2,"y":0.088,"a":0,"b":0},
{"t":827,"s":2,"y":0,"a":-0.0051,"b":0.0051},{"t":827,"s":2,"y":0.06,"a":-0.0063,"b":0.0063},{"t":827,"s":2,"y":0.075,"a":0,"b":0},
{"t":580,"s":2,"y":0,"a":-0.005,"b":0.005},{"t":580,"s":2,"y":0.05,"a":-0.0054,"b":0.0054},{"t":580,"s":2,"y":0.065,"a":0,"b":0},
{"t":295,"s":2,"y":0,"a":-0.0045,"b":0.0045},{"t":295,"s":2,"y":0.045,"a":-0.0045,"b":0.0045},{"t":295,"s":2,"y":0.055,"a":0,"b":0}
]},
"hconcat":[
{"width":366,"height":355,"title":{"text":"(i)","orient":"bottom","anchor":"middle","offset":36,"dx":-5},"data":{"name":"p1"},
"mark":{"type":"area","orient":"horizontal","interpolate":"basis","clip":true,"strokeWidth":5,"strokeOpacity":0.4},
"encoding":{"y":{"field":"y","type":"quantitative","scale":{"domain":[0,2],"nice":false},"axis":{"values":[0,0.4,0.8,1.2,1.6,2],"format":".1f","title":"Axial Position (m)","titleFontSize":22,"labelPadding":7,"titlePadding":24}},
"x":{"field":"a","type":"quantitative","scale":{"domain":[-0.4,0.4],"nice":false},"axis":{"values":[-0.4,-0.2,0,0.2,0.4],"labelExpr":"replace(format(datum.value,'.1f'),'−','-')","title":"Radial Position (m)","titleFontSize":20.5,"labelPadding":8,"titlePadding":14}},
"x2":{"field":"b"},"detail":{"field":"s"},
"stroke":{"field":"t","type":"quantitative","scale":{"domain":[295,830,1187,1544,2080],"range":["#0000ff","#00ffff","#00ff00","#ffff00","#ff0000"]},"legend":null},
"color":{"field":"t","type":"quantitative","scale":{"domain":[295,830.5,1187,1544,2080],"range":["#0000ff","#00ffff","#00ff00","#ffff00","#ff0000"]},
"legend":{"type":"gradient","orient":"none","legendX":378,"legendY":-8,"title":"Temperature (K)","titlePadding":16.5,"gradientLength":195,"gradientThickness":22,"labelOffset":10,"labelOverlap":false,"values":[295,473.5,652,830.5,1009,1187,1366,1544,1723,1901,2080],"labelExpr":"datum.value<1000?format(datum.value,'.1f'):format(datum.value,'d')","encoding":{"labels":{"baseline":{"value":"middle"}}}}}}},
{"width":365,"height":354,"title":{"text":"(ii)","orient":"bottom","anchor":"middle","offset":40},"data":{"name":"p2"},
"mark":{"type":"area","orient":"horizontal","interpolate":"basis","clip":true,"strokeWidth":5,"strokeOpacity":0.4},
"encoding":{"y":{"field":"y","type":"quantitative","scale":{"domain":[0,2],"nice":false},"axis":{"values":[0,0.4,0.8,1.2,1.6,2],"format":".1f","title":"Axial Position (m)","titleFontSize":22,"labelPadding":7,"titlePadding":24}},
"x":{"field":"a","type":"quantitative","scale":{"domain":[-0.4,0.4],"nice":false},"axis":{"values":[-0.4,-0.2,0,0.2,0.4],"labelExpr":"replace(format(datum.value,'.1f'),'−','-')","title":"Radial Position (m)","titleFontSize":20.5,"labelPadding":8,"titlePadding":14}},
"x2":{"field":"b"},"detail":{"field":"s"},
"stroke":{"field":"t","type":"quantitative","scale":{"domain":[295,827,1183,1538,2070],"range":["#0000ff","#00ffff","#00ff00","#ffff00","#ff0000"]},"legend":null},
"color":{"field":"t","type":"quantitative","scale":{"domain":[295,827.5,1183,1538,2070],"range":["#0000ff","#00ffff","#00ff00","#ffff00","#ff0000"]},
"legend":{"type":"gradient","orient":"none","legendX":377,"legendY":-9,"title":"Temperature (K)","titlePadding":17.5,"gradientLength":195,"gradientThickness":22,"labelOffset":10,"labelOverlap":false,"values":[295,472.5,650,827.5,1005,1183,1360,1538,1715,1893,2070],"labelExpr":"datum.value<1000?format(datum.value,'.1f'):format(datum.value,'d')","encoding":{"labels":{"baseline":{"value":"middle"}}}}}}}
]}
